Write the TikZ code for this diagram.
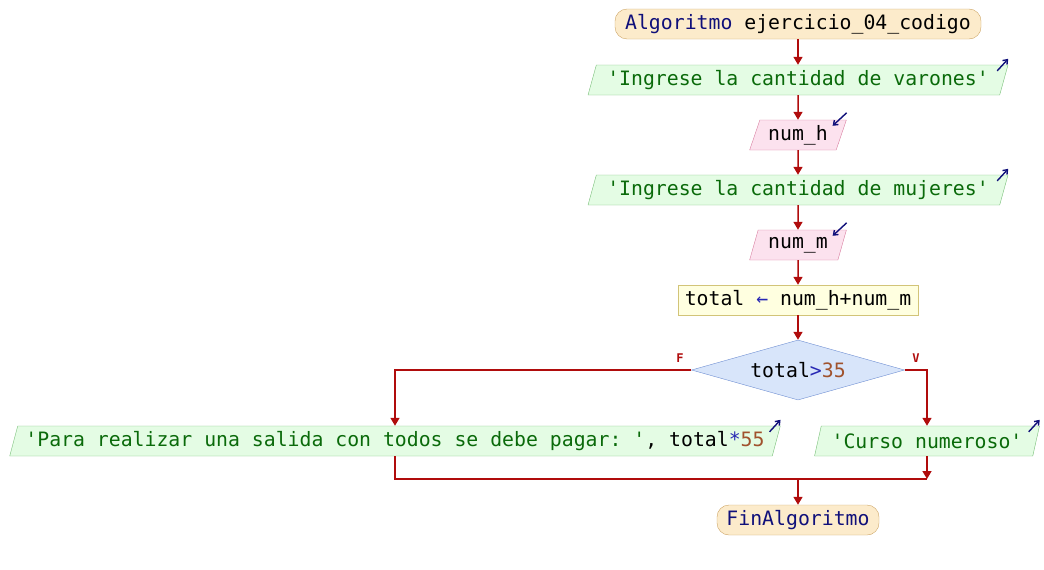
\documentclass[tikz,border=0pt]{standalone}
\usepackage{fontspec}
\setmonofont{DejaVu Sans Mono}
\usetikzlibrary{shapes.geometric,arrows.meta}
\definecolor{flecha}{HTML}{B00C0C}
\definecolor{clave}{HTML}{10107A}
\definecolor{cadena}{HTML}{0A6A0A}
\definecolor{numero}{HTML}{A0522D}
\definecolor{operador}{HTML}{2828B4}
\definecolor{icono}{HTML}{10107A}
\definecolor{fondoterm}{HTML}{FCEBCB}
\definecolor{bordeterm}{HTML}{CCA464}
\definecolor{fondosal}{HTML}{E4FCE4}
\definecolor{bordesal}{HTML}{78BE78}
\definecolor{fondoent}{HTML}{FCE2EE}
\definecolor{bordeent}{HTML}{D87EA0}
\definecolor{fondoasig}{HTML}{FFFFE0}
\definecolor{bordeasig}{HTML}{D2C478}
\definecolor{fondodec}{HTML}{D8E5FA}
\definecolor{bordedec}{HTML}{6E8ED2}
\begin{document}
\begin{tikzpicture}[x=1pt,y=-1pt,
    every node/.style={font=\ttfamily\fontsize{19.8}{22}\selectfont, inner sep=0pt},
    terminal/.style={draw=bordeterm, fill=fondoterm, rounded corners=12pt, minimum height=30pt},
    salida/.style={trapezium, trapezium left angle=68, trapezium right angle=112,
      trapezium stretches=true, draw=bordesal, fill=fondosal, minimum height=30pt},
    entrada/.style={salida, draw=bordeent, fill=fondoent},
    asigna/.style={rectangle, draw=bordeasig, fill=fondoasig, minimum height=30pt},
    decision/.style={diamond, draw=bordedec, fill=fondodec, shape aspect=3.5,
      minimum width=213pt, minimum height=60pt},
    flujo/.style={draw=flecha, line width=1.5pt, -{Triangle[length=8pt,width=9pt]}},
    linea/.style={draw=flecha, line width=1.5pt},
    icono/.style={draw=icono, line width=1.4pt, -{Straight Barb[length=4pt,width=6pt]}},
    rama/.style={text=flecha, font=\ttfamily\bfseries\fontsize{12}{12}\selectfont}]
  \useasboundingbox (0,0) rectangle (1044,570);

  % bloques
  \node[terminal, minimum width=366pt] (inicio) at (798,24) {{\color{clave}Algoritmo} ejercicio\_04\_codigo};
  \node[salida, minimum width=420pt] (msg1) at (798,80) {\color{cadena}'Ingrese la cantidad de varones'};
  \node[entrada, minimum width=97pt] (leeh) at (798,135) {num\_h};
  \node[salida, minimum width=420pt] (msg2) at (798,190) {\color{cadena}'Ingrese la cantidad de mujeres'};
  \node[entrada, minimum width=97pt] (leem) at (798,245) {num\_m};
  \node[asigna, minimum width=240pt] (calc) at (798,300) {total {\color{operador}←} num\_h+num\_m};
  \node[decision] (cond) at (798,370) {total{\color{operador}>}{\color{numero}35}};
  \node[salida, minimum width=778pt] (msgF) at (395,441) {{\color{cadena}'Para realizar una salida con todos se debe pagar: '}, total{\color{operador}*}{\color{numero}55}};
  \node[salida, minimum width=225pt] (msgV) at (927,441) {\color{cadena}'Curso numeroso'};
  \node[terminal, minimum width=162pt] (fin) at (798,520) {\color{clave}FinAlgoritmo};

  \node[rama] (etqF) at (680,358) {F};
  \node[rama] (etqV) at (916,358) {V};

  % iconos de salida y entrada
  \draw[icono] ([shift={(-11,6)}]msg1.top right corner) -- ([shift={(0,-6)}]msg1.top right corner);
  \draw[icono] ([shift={(-11,6)}]msg2.top right corner) -- ([shift={(0,-6)}]msg2.top right corner);
  \draw[icono] ([shift={(-11,6)}]msgF.top right corner) -- ([shift={(0,-6)}]msgF.top right corner);
  \draw[icono] ([shift={(-11,6)}]msgV.top right corner) -- ([shift={(0,-6)}]msgV.top right corner);
  \draw[icono] ([shift={(0,-7)}]leeh.top right corner) -- ([shift={(-14,6)}]leeh.top right corner);
  \draw[icono] ([shift={(0,-7)}]leem.top right corner) -- ([shift={(-14,6)}]leem.top right corner);

  % flujo
  \draw[flujo] (inicio) -- (msg1);
  \draw[flujo] (msg1) -- (leeh);
  \draw[flujo] (leeh) -- (msg2);
  \draw[flujo] (msg2) -- (leem);
  \draw[flujo] (leem) -- (calc);
  \draw[flujo] (calc) -- (cond);
  \draw[flujo] (cond.west) -| (msgF);
  \draw[flujo] (cond.east) -| (msgV);

  \coordinate (juntaI) at (395,479);
  \coordinate (juntaD) at (927,479);
  \coordinate (junta) at (798,479);
  \draw[linea] (msgF) -- (juntaI) -- (juntaD);
  \draw[flujo] (msgV) -- (juntaD);
  \draw[flujo] (junta) -- (fin);
\end{tikzpicture}
\end{document}
